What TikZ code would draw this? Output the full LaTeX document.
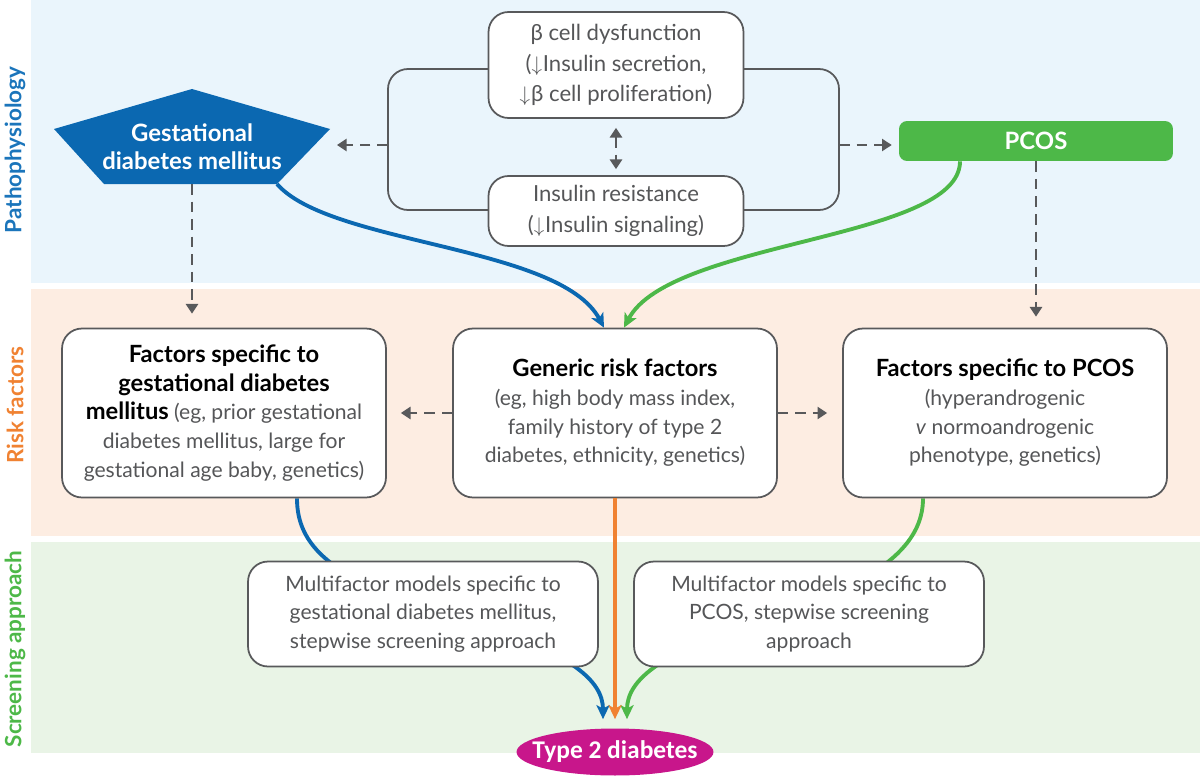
\documentclass[tikz,border=0pt]{standalone}
\usepackage{fontspec}
\setmainfont{Lato}
\newfontfamily\tdfont{Carlito}
\usetikzlibrary{arrows.meta,positioning,shapes.geometric}

\definecolor{bandblue}{HTML}{EAF5FC}
\definecolor{bandorange}{HTML}{FDEDE2}
\definecolor{bandgreen}{HTML}{E9F4E6}
\definecolor{gdmblue}{HTML}{0B68B1}
\definecolor{pathblue}{HTML}{1B75BB}
\definecolor{pcosgreen}{HTML}{4DB848}
\definecolor{riskorange}{HTML}{F08232}
\definecolor{tdmagenta}{HTML}{C8168B}
\definecolor{linegray}{HTML}{58595B}
\definecolor{textgray}{HTML}{555658}

\pgfdeclarelayer{back}
\pgfdeclarelayer{behind}
\pgfsetlayers{back,behind,main}

\newcommand{\dn}{$\downarrow$\kern0.5pt}
\newcommand{\boxhead}[1]{\textcolor{black}{\fontsize{13.5}{16.3}\selectfont\textbf{#1}}}

\tikzset{
    >={Triangle[length=5.5pt,width=7pt]},
    box/.style={draw=linegray, line width=1pt, fill=white, rounded corners=0.4cm,
        align=center, text=textgray, inner sep=0pt,
        font=\fontsize{12}{16.3}\selectfont},
    topbox/.style={box, font=\fontsize{12.6}{17.4}\selectfont},
    head/.style={align=center, font=\bfseries\fontsize{13.6}{15.9}\selectfont},
    loopline/.style={draw=linegray, line width=1pt, rounded corners=0.4cm},
    dasharrow/.style={linegray, line width=1pt, dash pattern=on 6pt off 4pt, ->},
    flow/.style={line width=2.2pt, -{Stealth[length=8pt,width=7.5pt,inset=2pt]}},
    lanelabel/.style={rotate=90, font=\bfseries\fontsize{12.8}{14}\selectfont},
}

\begin{document}
\begin{tikzpicture}[x=0.02cm, y=-0.02cm]

    \useasboundingbox (0,0) rectangle (1200,777);

    % Shade the three bands
    \begin{pgfonlayer}{back}
        \fill[bandblue] (31,0) rectangle (1200,283);
        \fill[bandorange] (31,289) rectangle (1200,536);
        \fill[bandgreen] (31,542) rectangle (1200,753);
    \end{pgfonlayer}

    % Band labels
    \node[lanelabel, text=pathblue] (lblpath) at (15,150) {Pathophysiology};
    \node[lanelabel, text=riskorange] (lblrisk) at (15,405) {Risk factors};
    \node[lanelabel, text=pcosgreen] (lblscreen) at (15,649) {Screening approach};

    % Pathophysiology: the two linked mechanisms
    \node[topbox, minimum width=5.1cm, minimum height=2.12cm] (bcell) at (616,65)
        {β cell dysfunction\\(\dn Insulin secretion,\\\dn β cell proliferation)};
    \node[topbox, minimum width=5.1cm, minimum height=1.4cm] (insres) at (616,211)
        {Insulin resistance\\(\dn Insulin signaling)};
    \begin{pgfonlayer}{behind}
        \draw[loopline] (388,69) rectangle (839,210);
    \end{pgfonlayer}
    \coordinate (loopw) at (388,145);
    \coordinate (loope) at (839,145);
    \coordinate (gdmtip) at (337,145);

    % Gestational diabetes mellitus
    \fill[gdmblue] (192,89) -- (330,129) -- (277,184) -- (104,184) -- (54,129) -- cycle;
    \node[head, text=white] (gdm) at (192,147) {Gestational\\diabetes mellitus};
    \coordinate (gdmb) at (192,184);
    \coordinate (gdmbr) at (277,184);

    % PCOS
    \node[head, text=white, fill=pcosgreen, rounded corners=0.16cm,
        minimum width=5.48cm, minimum height=0.8cm] (pcos) at (1036,141) {PCOS};

    % Dashed links in the top band
    \draw[dasharrow] (loopw) -- (gdmtip);
    \draw[dasharrow, shorten >=0.14cm] (loope) -- (loope -| pcos.west);
    \draw[dasharrow, <->, shorten <=0.18cm, shorten >=0.12cm] (bcell.south) -- (insres.north);

    % Risk factors
    \node[box, minimum width=6.48cm, minimum height=3.38cm] (riskgdm) at (224,413)
        {\boxhead{Factors specific to}\\\boxhead{gestational diabetes}\\
         \boxhead{mellitus} (eg, prior gestational\\diabetes mellitus, large for\\
         gestational age baby, genetics)};
    \node[box, minimum width=6.48cm, minimum height=3.38cm] (riskgen) at (615,413)
        {\boxhead{Generic risk factors}\\(eg, high body mass index,\\
         family history of type 2\\diabetes, ethnicity, genetics)};
    \node[box, minimum width=6.48cm, minimum height=3.38cm] (riskpcos) at (1005,413)
        {\boxhead{Factors specific to PCOS}\\(hyperandrogenic\\
         \textit{v} normoandrogenic\\phenotype, genetics)};

    \draw[dasharrow, shorten >=0.28cm] (gdmb) -- (gdmb |- riskgdm.north);
    \draw[dasharrow, shorten >=0.22cm] (pcos.south) -- (pcos.south |- riskpcos.north);
    \draw[dasharrow, shorten >=0.28cm] (riskgen.west) -- (riskgdm.east);
    \draw[dasharrow, shorten >=0.3cm] (riskgen.east) -- (riskpcos.west);

    % Screening approach
    \node[box, minimum width=7cm, minimum height=2.1cm] (scrgdm) at (423,614)
        {Multifactor models specific to\\gestational diabetes mellitus,\\
         stepwise screening approach};
    \node[box, minimum width=7cm, minimum height=2.1cm] (scrpcos) at (809,614)
        {Multifactor models specific to\\PCOS, stepwise screening\\approach};

    % Outcome
    \node[ellipse, fill=tdmagenta, minimum width=3.94cm, minimum height=0.94cm,
        inner xsep=-0.5cm, inner ysep=0pt, text=white,
        font=\tdfont\bfseries\fontsize{14.5}{16}\selectfont]
        (t2d) at (615,752) {Type 2 diabetes};

    % Coloured pathways
    \draw[flow, gdmblue] (gdmbr) .. controls (330,245) and (560,245) .. ([xshift=-0.22cm]riskgen.north);
    \draw[flow, pcosgreen] ([xshift=-1.52cm]pcos.south) .. controls (960,240) and (670,240) .. ([xshift=0.18cm]riskgen.north);
    \draw[flow, riskorange] (riskgen.south) -- ([yshift=0.18cm]t2d.north);
    \begin{pgfonlayer}{behind}
        \draw[flow, gdmblue] ([xshift=1.46cm]riskgdm.south) .. controls (297,545) and (330,580) .. (450,615)
            .. controls (570,650) and (603,680) .. ([xshift=-0.24cm,yshift=0.18cm]t2d.north);
        \draw[flow, pcosgreen] ([xshift=-1.64cm]riskpcos.south) .. controls (923,545) and (880,580) .. (780,615)
            .. controls (660,650) and (627,680) .. ([xshift=0.24cm,yshift=0.18cm]t2d.north);
    \end{pgfonlayer}

\end{tikzpicture}
\end{document}
